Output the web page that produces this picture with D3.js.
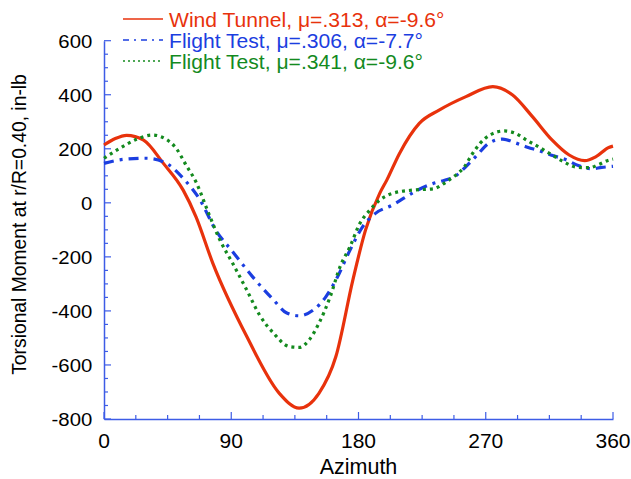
<!DOCTYPE html>
<html><head><meta charset="utf-8">
<script src="https://cdn.jsdelivr.net/npm/d3@7"></script>
<style>body{margin:0;background:#fff}svg{display:block}text{font-family:"Liberation Sans",Arial,sans-serif}</style>
</head><body>
<svg id="c" width="631" height="479"></svg>
<script>
const redAz  = [0,8,16,28,42,56,65,77,101,124,138,152,164,176,185,195,200,209,223,237,256,275,289,303,317,329,340,348,357,360];
const redVal = [214,238,250,232,146,47,-51,-224,-495,-705,-760,-705,-569,-286,-100,35,84,183,294,343,393,430,399,319,232,177,156,171,205,210];
const blueAz  = [0,14,30,42,56,68,79,91,105,120,129,138,148,157,164,174,183,192,204,212,221,233,240,248,256,264,272,282,291,300,308,316,326,336,345,352,360];
const blueVal = [146,161,165,152,91,10,-101,-181,-273,-360,-407,-418,-397,-347,-286,-175,-88,-39,-8,17,45,72,82,97,134,177,220,236,222,205,193,177,161,137,126,131,135];
const greenAz  = [0,9,23,34,44,51,58,65,74,82,91,101,110,120,131,138,145,152,160,167,174,181,188,195,204,218,233,240,245,250,255,260,266,273,283,291,299,309,317,325,335,343,350,356,360];
const greenVal = [165,195,235,251,235,202,140,78,-39,-138,-224,-323,-415,-483,-532,-535,-508,-446,-347,-236,-162,-76,-27,10,35,47,52,70,88,108,134,177,220,251,266,257,232,202,177,152,131,130,142,156,162];
const xTicks = [0,90,180,270,360];
const yTicks = [600,400,200,0,-200,-400,-600,-800];
const legendLabels = ["Wind Tunnel, μ=.313, α=-9.6°","Flight Test, μ=.306, α=-7.7°","Flight Test, μ=.341, α=-9.6°"];

const svg = d3.select("#c");
const L=104, R=613, T=40.7, B=419;
const x = d3.scaleLinear().domain([0,360]).range([L,R]);
const y = d3.scaleLinear().domain([-800,600]).range([B,T]);
const axisColor = "#3d5ce6";

// axes
const gx = svg.append("g").attr("transform",`translate(0,${B})`);
gx.call(d3.axisBottom(x).tickValues(d3.range(0,361,22.5)).tickSize(0).tickFormat(""));
gx.select(".domain").attr("stroke",axisColor).attr("stroke-width",1.5);
gx.selectAll(".tk").data(d3.range(0,361,22.5)).join("line")
  .attr("x1",d=>x(d)).attr("x2",d=>x(d)).attr("y1",0).attr("y2",d=>d%90===0?-7:-4)
  .attr("stroke",axisColor).attr("stroke-width",1.2);
gx.selectAll(".lb").data(xTicks).join("text")
  .attr("x",d=>x(d)).attr("y",28.7).attr("text-anchor","middle").attr("font-size",21).attr("fill","#000").text(d=>d);

const gy = svg.append("g").attr("transform",`translate(${L},0)`);
gy.call(d3.axisLeft(y).tickValues([]).tickSize(0));
gy.select(".domain").attr("stroke",axisColor).attr("stroke-width",1.5);
gy.selectAll(".tk").data(d3.range(-800,601,50)).join("line")
  .attr("y1",d=>y(d)).attr("y2",d=>y(d)).attr("x1",0).attr("x2",d=>d%200===0?7:4)
  .attr("stroke",axisColor).attr("stroke-width",1.2);
gy.selectAll(".lb").data(yTicks).join("text")
  .attr("transform",d=>`translate(-11.7,${y(d)+7}) scale(1.06,1)`)
  .attr("text-anchor","end").attr("font-size",19.2).attr("fill","#000").text(d=>d);

svg.append("text").attr("x",x(180)).attr("y",474.3).attr("text-anchor","middle").attr("font-size",21.5).text("Azimuth");
svg.append("text").attr("transform",`translate(26,${(57+392)/2}) rotate(-90)`).attr("text-anchor","middle").attr("font-size",19.3).text("Torsional Moment at r/R=0.40, in-lb");

const line = d3.line().x(d=>x(d[0])).y(d=>y(d[1])).curve(d3.curveMonotoneX);
const series = [
  {az:redAz, v:redVal, color:"#e8320c", dash:null, w:3.2},
  {az:blueAz, v:blueVal, color:"#1b3ee0", dash:"10,6,3,6", w:3.2},
  {az:greenAz, v:greenVal, color:"#138a1e", dash:"3,4", w:3.2}
];
series.forEach(s=>{
  svg.append("path").datum(d3.zip(s.az,s.v)).attr("d",line)
    .attr("fill","none").attr("stroke",s.color).attr("stroke-width",s.w)
    .attr("stroke-dasharray",s.dash);
});

// legend
const legDash = [null,"6,5,2,5","2,3"];
series.forEach((s,i)=>{
  const yy = 19 + i*21;
  svg.append("line").attr("x1",123).attr("x2",163).attr("y1",yy).attr("y2",yy)
    .attr("stroke",s.color).attr("stroke-width",1.5).attr("stroke-dasharray",legDash[i]);
  svg.append("text").attr("transform",`translate(169,${yy+8}) scale(1.04,1)`).attr("font-size",20.3).attr("fill",s.color).text(legendLabels[i]);
});
</script>
</body></html>
